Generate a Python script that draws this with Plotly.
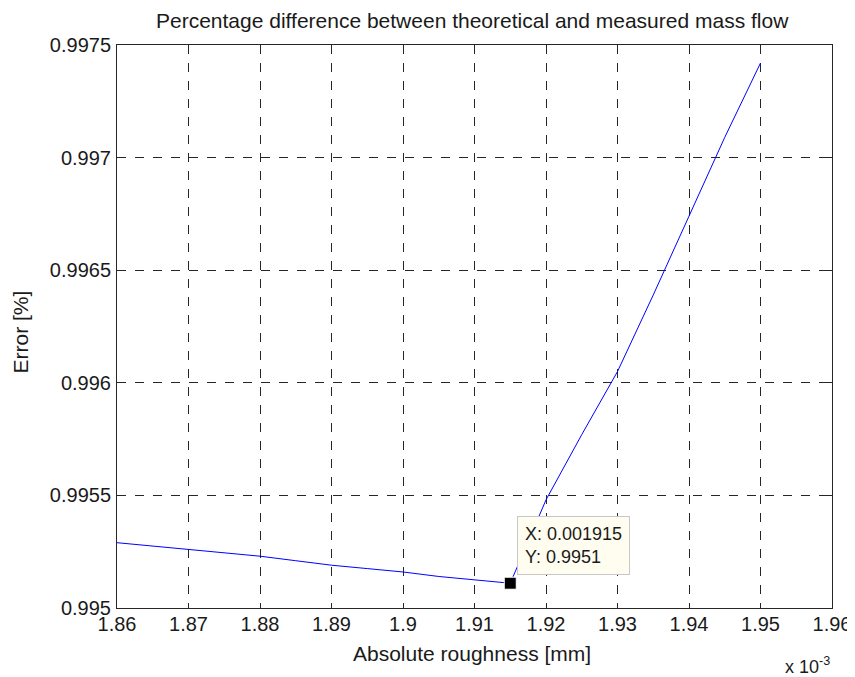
import plotly.graph_objects as go

# Data (x in units of 1e-3 mm)
roughness = [1.86, 1.865, 1.87, 1.875, 1.88, 1.885, 1.89, 1.895, 1.90, 1.905, 1.91, 1.915,
             1.92, 1.925, 1.93, 1.935, 1.94, 1.945, 1.95]
error_pct = [0.99529, 0.995275, 0.99526, 0.995243, 0.99523, 0.99521, 0.99519, 0.995175,
             0.99516, 0.99514, 0.995124, 0.99511,
             0.99548, 0.99577, 0.99605, 0.99639, 0.99674, 0.99709, 0.99742]
tip_x, tip_y = 1.915, 0.99511

x_ticks = [1.86, 1.87, 1.88, 1.89, 1.90, 1.91, 1.92, 1.93, 1.94, 1.95, 1.96]
x_labels = ["1.86", "1.87", "1.88", "1.89", "1.9", "1.91", "1.92", "1.93", "1.94", "1.95", "1.96"]
y_ticks = [0.995, 0.9955, 0.996, 0.9965, 0.997, 0.9975]
y_labels = ["0.995", "0.9955", "0.996", "0.9965", "0.997", "0.9975"]

font_family = "Liberation Sans, Arial, sans-serif"
txt_color = "#1a1a1a"

# page body has an 8px margin; build the figure 8px smaller and offset coordinates
OFF = 8
W, H = 855 - OFF, 677 - OFF
L, R, T, B = 117 - OFF, 832 - OFF, 45 - OFF, 608 - OFF

fig = go.Figure()
fig.add_trace(go.Scatter(x=roughness, y=error_pct, mode="lines",
                         line=dict(color="#0000FF", width=1), showlegend=False))
fig.add_trace(go.Scatter(x=[tip_x], y=[tip_y], mode="markers",
                         marker=dict(symbol="square", color="black", size=12,
                                     line=dict(color="white", width=1)),
                         showlegend=False))

axis_common = dict(showline=True, linecolor="#262626", linewidth=1, mirror="ticks",
                   ticks="inside", ticklen=5, tickcolor="#262626",
                   showgrid=True, gridcolor="#262626", griddash="dash", gridwidth=1,
                   zeroline=False, automargin=False,
                   tickfont=dict(family=font_family, size=20, color=txt_color))

fig.update_layout(
    width=W, height=H,
    margin=dict(l=L, r=W - R, t=T, b=H - B),
    paper_bgcolor="white", plot_bgcolor="white",
    font=dict(family=font_family, color=txt_color),
    xaxis=dict(range=[1.86, 1.96], tickvals=x_ticks, ticktext=x_labels,
               ticklabelstandoff=-2, **axis_common),
    yaxis=dict(range=[0.995, 0.9975], tickvals=y_ticks, ticktext=y_labels,
               ticklabelstandoff=1, **axis_common),
    annotations=[
        dict(x=0.5, y=1, xref="paper", yref="paper", yshift=25, xshift=-2, showarrow=False,
             text="Percentage difference between theoretical and measured mass flow",
             xanchor="center", yanchor="middle",
             font=dict(size=21, family=font_family, color=txt_color)),
        dict(x=0.5, y=0, xref="paper", yref="paper", yshift=-45, xshift=-3, showarrow=False,
             text="Absolute roughness [mm]", xanchor="center", yanchor="middle",
             font=dict(size=21, family=font_family, color=txt_color)),
        dict(x=0, y=0.5, xref="paper", yref="paper", xshift=-(117 - 20), yshift=-6,
             showarrow=False, text="Error [%]", textangle=-90,
             xanchor="center", yanchor="middle",
             font=dict(size=21, family=font_family, color=txt_color)),
        dict(x=tip_x, y=tip_y, xref="x", yref="y", text="X: 0.001915<br>Y: 0.9951",
             showarrow=False, xanchor="left", yanchor="bottom", xshift=7, yshift=8,
             align="left", bgcolor="#FFFDF0", bordercolor="#C8C8C8", borderwidth=1,
             borderpad=7, font=dict(size=18, family=font_family, color=txt_color)),
        dict(x=1, y=0, xref="paper", yref="paper", showarrow=False,
             text="x 10<sup>-3</sup>", xanchor="right", yanchor="top", yshift=-44,
             font=dict(size=18, family=font_family, color=txt_color)),
    ],
)

fig.write_html("out.html")
